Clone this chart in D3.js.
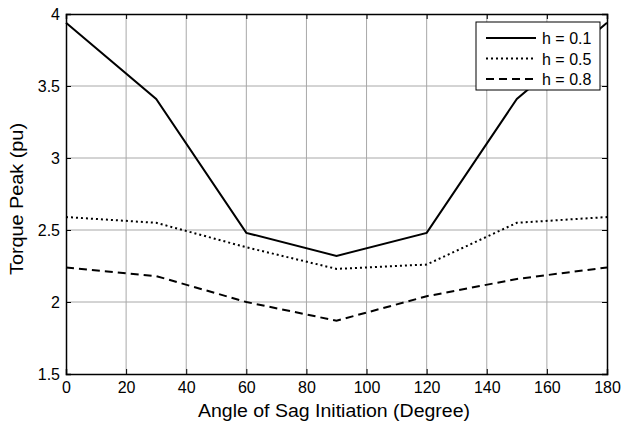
<!DOCTYPE html>
<html>
<head>
<meta charset="utf-8">
<script src="https://cdn.jsdelivr.net/npm/d3@7"></script>
<style>
  body { margin: 0; background: #fff; }
  text { font-family: "Liberation Sans", Arial, sans-serif; fill: #000; }
</style>
</head>
<body>
<svg width="624" height="423"></svg>
<script>
// sag initiation angle (degrees)
const angles = [0, 30, 60, 90, 120, 150, 180];
// torque peak (pu) for each retained voltage h
const h01 = [3.94, 3.41, 2.48, 2.32, 2.48, 3.41, 3.94];
const h05 = [2.59, 2.55, 2.38, 2.23, 2.26, 2.55, 2.59];
const h08 = [2.24, 2.18, 2.00, 1.87, 2.04, 2.16, 2.24];
const seriesNames = ["h = 0.1", "h = 0.5", "h = 0.8"];
const xTicks = [0, 20, 40, 60, 80, 100, 120, 140, 160, 180];
const yTicks = [1.5, 2, 2.5, 3, 3.5, 4];

const svg = d3.select("svg");
const pLeft = 66, pRight = 607, pTop = 14, pBottom = 374;

const x = d3.scaleLinear().domain([0, 180]).range([pLeft, pRight]);
const y = d3.scaleLinear().domain([1.5, 4]).range([pBottom, pTop]);

// grid
const grid = svg.append("g");
grid.selectAll(".gx")
  .data(xTicks.slice(1, -1))
  .enter()
  .append("line")
  .attr("x1", d => x(d)).attr("x2", d => x(d))
  .attr("y1", pTop).attr("y2", pBottom)
  .attr("stroke", "#a8a8a8").attr("stroke-width", 1);
grid.selectAll(".gy")
  .data(yTicks.slice(1, -1))
  .enter()
  .append("line")
  .attr("x1", pLeft).attr("x2", pRight)
  .attr("y1", d => y(d)).attr("y2", d => y(d))
  .attr("stroke", "#a8a8a8").attr("stroke-width", 1);

// axes (inward ticks, MATLAB box style)
const fmt = d3.format("");
const axB = svg.append("g").attr("transform", `translate(0,${pBottom})`)
  .call(d3.axisBottom(x).tickValues(xTicks).tickSize(-5).tickPadding(8).tickFormat(fmt));
const axT = svg.append("g").attr("transform", `translate(0,${pTop})`)
  .call(d3.axisTop(x).tickValues(xTicks).tickSize(-5).tickFormat(""));
const axL = svg.append("g").attr("transform", `translate(${pLeft},0)`)
  .call(d3.axisLeft(y).tickValues(yTicks).tickSize(-5).tickPadding(6).tickFormat(fmt));
const axR = svg.append("g").attr("transform", `translate(${pRight},0)`)
  .call(d3.axisRight(y).tickValues(yTicks).tickSize(-5).tickFormat(""));
[axB, axT, axL, axR].forEach(a => {
  a.select(".domain").attr("stroke", "#000").attr("stroke-width", 1.5);
  a.selectAll(".tick line").attr("stroke", "#000");
  a.selectAll(".tick text").attr("font-size", 16).attr("font-family", "Liberation Sans, Arial, sans-serif");
});

// lines
const series = [
  { name: seriesNames[0], values: h01, dash: null },
  { name: seriesNames[1], values: h05, dash: "2,3" },
  { name: seriesNames[2], values: h08, dash: "8,5" }
];
const line = d3.line().x((d, i) => x(angles[i])).y(d => y(d));
svg.selectAll(".series")
  .data(series)
  .enter()
  .append("path")
  .attr("d", d => line(d.values))
  .attr("fill", "none")
  .attr("stroke", "#000")
  .attr("stroke-width", 2)
  .attr("stroke-dasharray", d => d.dash);

// axis labels
svg.append("text")
  .attr("x", 334).attr("y", 417)
  .attr("text-anchor", "middle").attr("font-size", 17.5)
  .attr("textLength", 272).attr("lengthAdjust", "spacingAndGlyphs")
  .text("Angle of Sag Initiation (Degree)");
svg.append("text")
  .attr("transform", "translate(23,199) rotate(-90)")
  .attr("text-anchor", "middle").attr("font-size", 17.5)
  .attr("textLength", 152).attr("lengthAdjust", "spacingAndGlyphs")
  .text("Torque Peak (pu)");

// legend
const lg = svg.append("g");
lg.append("rect")
  .attr("x", 476).attr("y", 22).attr("width", 124).attr("height", 68)
  .attr("fill", "#fff").attr("stroke", "#000").attr("stroke-width", 1);
const rows = lg.selectAll(".row")
  .data(series)
  .enter()
  .append("g")
  .attr("transform", (d, i) => `translate(0,${38 + i * 20.5})`);
rows.append("line")
  .attr("x1", 486).attr("x2", 536)
  .attr("stroke", "#000").attr("stroke-width", 2)
  .attr("stroke-dasharray", d => d.dash);
rows.append("text")
  .attr("x", 542).attr("y", 6)
  .attr("font-size", 16)
  .text(d => d.name);
</script>
</body>
</html>
